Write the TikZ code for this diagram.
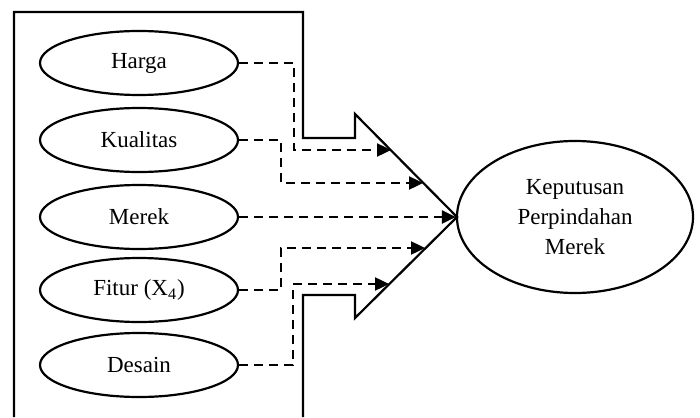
\documentclass[tikz,border=0pt]{standalone}
\usepackage{fontspec}
\setmainfont{Liberation Serif}
\usepackage{tikz}
\usetikzlibrary{shapes.geometric, arrows.meta, positioning, calc}

\begin{document}
\begin{tikzpicture}[
    x=0.5pt, y=-0.5pt,
    var/.style={ellipse, draw, line width=1.1pt, minimum width=99pt, minimum height=32pt, inner sep=0pt, font=\fontsize{11.5}{14}\selectfont},
    dep/.style={ellipse, draw, line width=1.1pt, minimum width=118pt, minimum height=76pt, inner sep=0pt, align=center, font=\fontsize{11.5}{15}\selectfont},
    frame/.style={line width=1.1pt, line join=miter},
    arr/.style={-{Triangle[length=7pt, width=6.5pt]}, dash pattern=on 4.5pt off 3pt, line width=1.2pt}
]
\useasboundingbox (0,0) rectangle (700,417);

% Outline of the big arrow
\draw[frame] (14,417) -- (14,12) -- (303,12) -- (303,138) -- (355,138) -- (355,114)
    -- (457,217) -- (355,318) -- (355,295) -- (303,295) -- (303,417);

% Ends of the arrows on the arrow head
\coordinate (ha) at (391,150);
\coordinate (ku) at (423,183);
\coordinate (fi) at (425,248);
\coordinate (de) at (389,284);

% Variables
\node[var] (harga) at (139,63) {Harga};
\node[var] (kualitas) at (139,140) {Kualitas};
\node[var] (merek) at (139,217) {Merek};
\node[var] (fitur) at (139,290) {Fitur (X\textsubscript{4})};
\node[var] (desain) at (139,365) {Desain};

\node[dep] (kpm) at (575,217) {Keputusan\\Perpindahan\\Merek};

% Arrows
\draw[arr] (harga.east) -- ++(55,0) |- (ha);
\draw[arr] (kualitas.east) -- ++(42,0) |- (ku);
\draw[arr] (merek.east) -- (kpm.west);
\draw[arr] (fitur.east) -- ++(42,0) |- (fi);
\draw[arr] (desain.east) -- ++(54,0) |- (de);
\end{tikzpicture}
\end{document}
